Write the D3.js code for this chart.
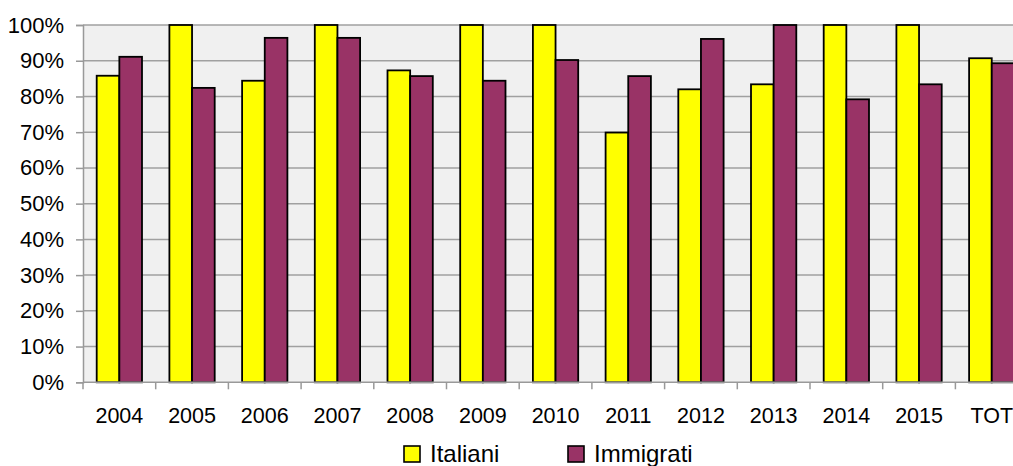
<!DOCTYPE html>
<html><head><meta charset="utf-8">
<script src="https://cdn.jsdelivr.net/npm/d3@7"></script>
<style>body{margin:0;background:#fff;overflow:hidden}text{font-family:"Liberation Sans",Arial,sans-serif;fill:#000}</style>
</head><body>
<svg id="c" width="1013" height="466"></svg>
<script>
const categories = ["2004","2005","2006","2007","2008","2009","2010","2011","2012","2013","2014","2015","TOT"];
const seriesNames = ["Italiani","Immigrati"];
const italiani =  [85.8,100,84.4,100,87.3,100,100,69.9,82.0,83.4,100,100,90.7];
const immigrati = [91.1,82.4,96.4,96.4,85.7,84.4,90.2,85.7,96.1,100,79.2,83.4,89.3];
const yTicks = [0,10,20,30,40,50,60,70,80,90,100];
const colors = ["#FFFF00","#993366"];

const svg = d3.select("#c");
const L = 83, T = 25, B = 382.3, bandW = 72.7;
const R = L + bandW * categories.length;
const x = d3.scaleBand().domain(categories).range([L, R]).paddingInner(0).paddingOuter(0);
const y = d3.scaleLinear().domain([0,100]).range([B, T]);
const inner = d3.scaleBand().domain(seriesNames).range([0, 45.3]);
const groupOff = (bandW - 45.3) / 2;

svg.append("rect").attr("x", L).attr("y", T).attr("width", R - L).attr("height", B - T).attr("fill", "#f0f0f0");

svg.append("g").selectAll("line").data(yTicks.filter(d => d > 0)).join("line")
  .attr("x1", L).attr("x2", R).attr("y1", d => y(d)).attr("y2", d => y(d))
  .attr("stroke", "#a0a0a0").attr("stroke-width", 1.5);

const data = categories.map((c, i) => ({c, vals: [italiani[i], immigrati[i]]}));
const g = svg.append("g").selectAll("g").data(data).join("g")
  .attr("transform", d => `translate(${x(d.c) + groupOff},0)`);
g.selectAll("rect").data(d => d.vals.map((v, j) => ({v, s: seriesNames[j], j}))).join("rect")
  .attr("x", d => inner(d.s)).attr("width", inner.bandwidth())
  .attr("y", d => y(d.v)).attr("height", d => y(0) - y(d.v))
  .attr("fill", d => colors[d.j]).attr("stroke", "#000").attr("stroke-width", 1.8);

// axes
const yAxis = svg.append("g").attr("transform", `translate(${L},0)`)
  .call(d3.axisLeft(y).tickValues(yTicks).tickFormat(d => d + "%").tickSize(7).tickPadding(12));
yAxis.select(".domain").attr("stroke", "#999").attr("stroke-width", 1.5);
yAxis.selectAll(".tick line").attr("stroke", "#999").attr("stroke-width", 1.5);
yAxis.selectAll("text").style("font-size", "22px").attr("font-family", null);

const xAxis = svg.append("g").attr("transform", `translate(0,${B})`)
  .call(d3.axisBottom(x).tickSize(0).tickPadding(25));
xAxis.select(".domain").attr("stroke", "#999").attr("stroke-width", 1.5).attr("d", `M${L},0H${R}`);
xAxis.selectAll("text").style("font-size", "21.5px");
xAxis.selectAll(".tick line").remove();
svg.append("g").selectAll("line").data(categories.map((c,i)=>i).concat([categories.length])).join("line")
  .attr("x1", i => L + i*bandW).attr("x2", i => L + i*bandW).attr("y1", B).attr("y2", B + 7)
  .attr("stroke", "#999").attr("stroke-width", 1.5);

// legend
const legX = [404, 568];
const lg = svg.append("g").selectAll("g").data(seriesNames).join("g")
  .attr("transform", (d, i) => `translate(${legX[i]},446)`);
lg.append("rect").attr("width", 16).attr("height", 16).attr("fill", (d, i) => colors[i]).attr("stroke", "#000").attr("stroke-width", 1.6);
lg.append("text").attr("x", 26).attr("y", 16).style("font-size", "24px").text(d => d);
</script>
</body></html>
